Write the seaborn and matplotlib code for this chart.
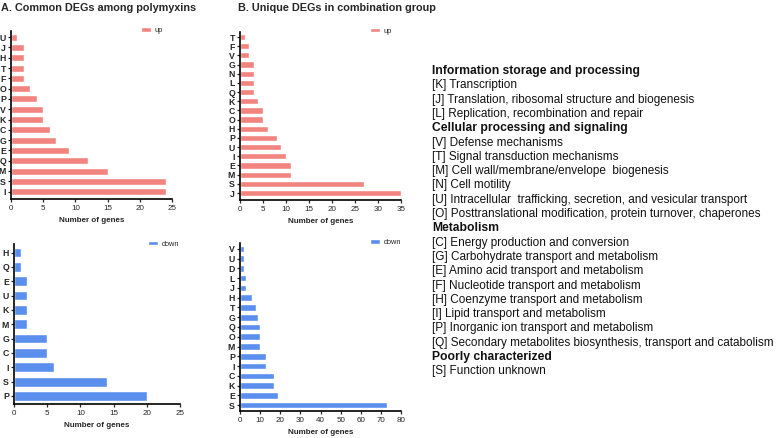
import numpy as np
import pandas as pd
import matplotlib
matplotlib.use("Agg")
import matplotlib.pyplot as plt
import seaborn as sns

# Datos (de arriba hacia abajo)
a_up_cat = ["U", "J", "H", "T", "F", "O", "P", "V", "K", "C", "G", "E", "Q", "M", "S", "I"]
a_up_val = [1, 2, 2, 2, 2, 3, 4, 5, 5, 6, 7, 9, 12, 15, 24, 24]

a_down_cat = ["H", "Q", "E", "U", "K", "M", "G", "C", "I", "S", "P"]
a_down_val = [1, 1, 2, 2, 2, 2, 5, 5, 6, 14, 20]

b_up_cat = ["T", "F", "V", "G", "N", "L", "Q", "K", "C", "O", "H", "P", "U", "I", "E", "M", "S", "J"]
b_up_val = [1, 2, 2, 3, 3, 3, 3, 4, 5, 5, 6, 8, 9, 10, 11, 11, 27, 35]

b_down_cat = ["V", "U", "D", "L", "J", "H", "T", "G", "Q", "O", "M", "P", "I", "C", "K", "E", "S"]
b_down_val = [2, 2, 2, 3, 3, 6, 8, 9, 10, 10, 10, 13, 13, 17, 17, 19, 73]

cog_lines = [
    ("Information storage and processing", True),
    ("[K] Transcription", False),
    ("[J] Translation, ribosomal structure and biogenesis", False),
    ("[L] Replication, recombination and repair", False),
    ("Cellular processing and signaling", True),
    ("[V] Defense mechanisms", False),
    ("[T] Signal transduction mechanisms", False),
    ("[M] Cell wall/membrane/envelope  biogenesis", False),
    ("[N] Cell motility", False),
    ("[U] Intracellular  trafficking, secretion, and vesicular transport", False),
    ("[O] Posttranslational modification, protein turnover, chaperones", False),
    ("Metabolism", True),
    ("[C] Energy production and conversion", False),
    ("[G] Carbohydrate transport and metabolism", False),
    ("[E] Amino acid transport and metabolism", False),
    ("[F] Nucleotide transport and metabolism", False),
    ("[H] Coenzyme transport and metabolism", False),
    ("[I] Lipid transport and metabolism", False),
    ("[P] Inorganic ion transport and metabolism", False),
    ("[Q] Secondary metabolites biosynthesis, transport and catabolism", False),
    ("Poorly characterized", True),
    ("[S] Function unknown", False),
]

UP_COLOR = "#F2847F"
DOWN_COLOR = "#5B8FEE"

sns.set_style("ticks")
plt.rcParams["font.family"] = ["Liberation Sans", "DejaVu Sans"]

W, H = 776, 438
fig = plt.figure(figsize=(W / 100, H / 100), dpi=100)


def px_axes(x0, x1, ytop, ybot):
    return fig.add_axes([x0 / W, (H - ybot) / H, (x1 - x0) / W, (ybot - ytop) / H])


def panel(ax, cats, vals, color, label, xmax, xstep, pad_bottom, leg_x):
    df = pd.DataFrame({"cog": cats, "n": vals})
    sns.barplot(data=df, x="n", y="cog", orient="h", color=color, saturation=1,
                width=0.68, ax=ax, label=label)
    n = len(cats)
    ax.set_ylim(n - 1 + pad_bottom, -0.6)
    ax.set_xlim(0, xmax)
    ax.set_xticks(np.arange(0, xmax + 1, xstep))
    ax.set_ylabel("")
    ax.set_xlabel("Number of genes", fontsize=5.8, fontweight="bold", labelpad=4)
    sns.despine(ax=ax)
    for s in ["left", "bottom"]:
        ax.spines[s].set_linewidth(1.2)
        ax.spines[s].set_color("black")
    ax.tick_params(axis="y", labelsize=6.3, length=2.5, width=0.9, pad=1)
    ax.tick_params(axis="x", labelsize=5.8, length=2.5, width=0.9, pad=1.5)
    for t in ax.get_yticklabels():
        t.set_fontweight("bold")
    ax.legend(loc="upper left", bbox_to_anchor=(leg_x, 1.04), frameon=False,
              fontsize=5.3, handlelength=1.3, handleheight=0.6, handletextpad=0.5,
              borderaxespad=0)


ax1 = px_axes(11, 172, 31, 199)
panel(ax1, a_up_cat, a_up_val, UP_COLOR, "up", 25, 5, 0.72, 0.79)

ax2 = px_axes(14, 180, 244, 404)
panel(ax2, a_down_cat, a_down_val, DOWN_COLOR, "down", 25, 5, 0.56, 0.79)

ax3 = px_axes(240, 401, 31.5, 200)
panel(ax3, b_up_cat, b_up_val, UP_COLOR, "up", 35, 5, 0.76, 0.79)

ax4 = px_axes(240, 401, 243, 411)
panel(ax4, b_down_cat, b_down_val, DOWN_COLOR, "down", 80, 10, 0.6, 0.79)

fig.text(1 / W, 1 - 8 / H, "A. Common DEGs among polymyxins", fontsize=7.8,
         fontweight="bold", va="center", ha="left")
fig.text(238 / W, 1 - 8 / H, "B. Unique DEGs in combination group", fontsize=7.8,
         fontweight="bold", va="center", ha="left")

y0 = 71
step = 14.3
for i, (txt, bold) in enumerate(cog_lines):
    fig.text(432 / W, 1 - (y0 + i * step) / H, txt, fontsize=8.7 if bold else 8.5,
             fontweight="bold" if bold else "normal", va="center", ha="left",
             color="#111111")

fig.savefig("out.png", dpi=100)
